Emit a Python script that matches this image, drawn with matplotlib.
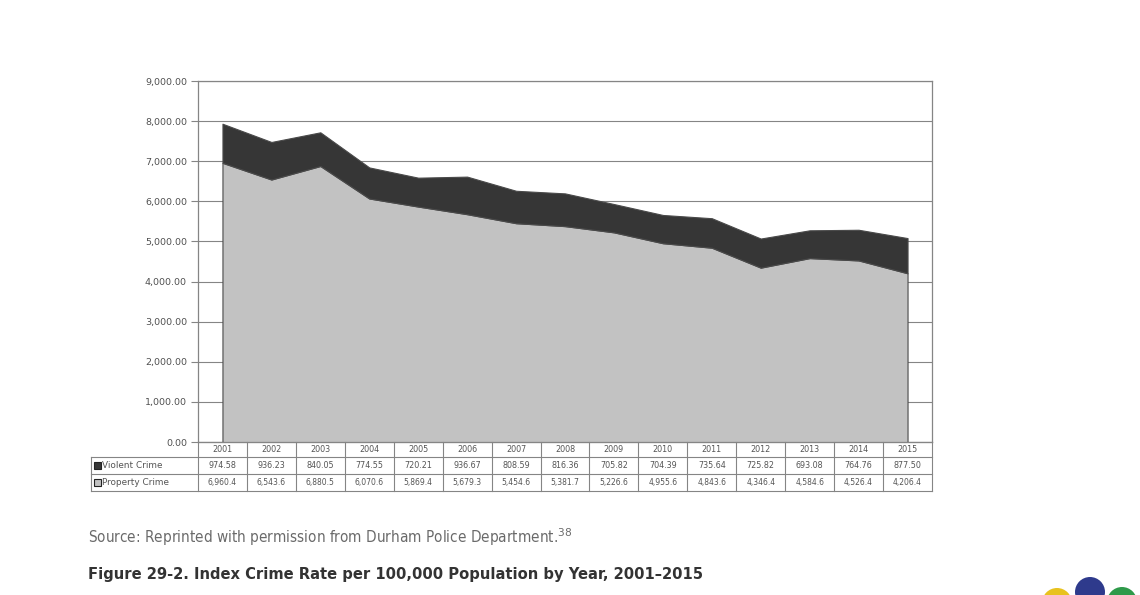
import numpy as np
import matplotlib.pyplot as plt
from matplotlib.patches import Rectangle, Circle

years = ['2001', '2002', '2003', '2004', '2005', '2006', '2007', '2008',
         '2009', '2010', '2011', '2012', '2013', '2014', '2015']
violent = [974.58, 936.23, 840.05, 774.55, 720.21, 936.67, 808.59, 816.36,
           705.82, 704.39, 735.64, 725.82, 693.08, 764.76, 877.50]
property_crime = [6960.4, 6543.6, 6880.5, 6070.6, 5869.4, 5679.3, 5454.6, 5381.7,
                  5226.6, 4955.6, 4843.6, 4346.4, 4584.6, 4526.4, 4206.4]
series_names = ['Violent Crime', 'Property Crime']
yticks = np.arange(0, 9001, 1000)

source_txt = 'Source: Reprinted with permission from Durham Police Department.$^{38}$'
caption_txt = 'Figure 29-2. Index Crime Rate per 100,000 Population by Year, 2001\u20132015'

dark = '#363636'
light = '#c2c2c2'
linec = '#858585'

W, H = 1140, 595
fig = plt.figure(figsize=(W / 100, H / 100), dpi=100)

# plot area in pixels: left 198, right 932, top 81, bottom 442
L, R, T, B = 198, 932, 81, 442
ax = fig.add_axes([L / W, 1 - B / H, (R - L) / W, (B - T) / H])
x = np.arange(len(years))
ax.stackplot(x, property_crime, violent, colors=[light, dark],
             edgecolor='#4a4a4a', linewidth=0.8, zorder=3)
ax.set_xlim(-0.5, len(years) - 0.5)
ax.set_ylim(0, 9000)
ax.set_yticks(yticks)
ax.set_yticklabels([f'{v:,.2f}' for v in yticks], fontsize=6.8, color='#505050')
ax.set_xticks([])
ax.yaxis.grid(True, color=linec, linewidth=0.8, zorder=1)
ax.tick_params(axis='y', length=5, width=0.8, color=linec, pad=3)
for s in ax.spines.values():
    s.set_color(linec)
    s.set_linewidth(0.9)

# overlay in pixel coordinates for the data table and captions
ov = fig.add_axes([0, 0, 1, 1], zorder=5)
ov.set_xlim(0, W)
ov.set_ylim(H, 0)
ov.axis('off')

tl = 91
rows_y = [442, 457, 474, 491]
cw = (R - L) / len(years)
tc = '#555555'
ov.plot([L, R], [rows_y[0], rows_y[0]], color=linec, lw=0.8)
for yy in rows_y[1:]:
    ov.plot([tl, R], [yy, yy], color=linec, lw=0.8)
ov.plot([tl, tl], [rows_y[1], rows_y[3]], color=linec, lw=0.8)
for i in range(len(years) + 1):
    xx = L + i * cw
    ov.plot([xx, xx], [rows_y[0], rows_y[3]], color=linec, lw=0.8)

for i, yr in enumerate(years):
    cx = L + (i + 0.5) * cw
    ov.text(cx, (rows_y[0] + rows_y[1]) / 2, yr, fontsize=5.8, color=tc,
            ha='center', va='center')
    ov.text(cx, (rows_y[1] + rows_y[2]) / 2, f'{violent[i]:,.2f}', fontsize=5.8,
            color=tc, ha='center', va='center')
    ov.text(cx, (rows_y[2] + rows_y[3]) / 2, f'{property_crime[i]:,.1f}', fontsize=5.5,
            color=tc, ha='center', va='center')

# row labels with colour keys
for r, (name, col) in enumerate(zip(series_names, [dark, light])):
    cy = (rows_y[r + 1] + rows_y[r + 2]) / 2
    ov.add_patch(Rectangle((tl + 3, cy - 3.5), 7, 7, facecolor=col,
                           edgecolor='#222222', lw=0.8))
    ov.text(tl + 11, cy, name, fontsize=6.4, color=tc, ha='left', va='center')

# captions
ov.text(88, 537, source_txt, fontsize=11, color='#6a6a6a', ha='left',
        va='center', family='DejaVu Sans', fontstretch='condensed')
ov.text(88, 575, caption_txt, fontsize=11.75, color='#333333', ha='left',
        va='center', family='DejaVu Sans', fontstretch='condensed',
        fontweight='bold')

# partial logo at bottom right
for cx, cy, r, col in [(1057, 603, 15, '#e8c21e'), (1090, 592, 15, '#2e3a8c'),
                       (1122, 602, 15, '#2e9a4a')]:
    ov.add_patch(Circle((cx, cy), r, facecolor=col, edgecolor='none'))

fig.savefig('out.png', dpi=100)
